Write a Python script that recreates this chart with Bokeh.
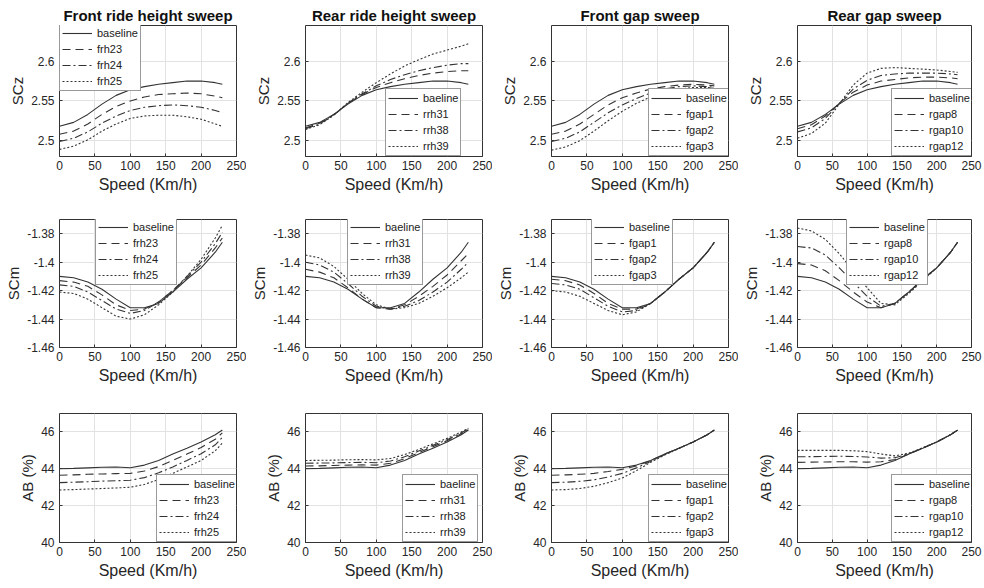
from bokeh.plotting import figure
from bokeh.layouts import column, row
from bokeh.models import Range1d, FixedTicker, Legend, LegendItem
from bokeh.embed import file_html
from bokeh.resources import INLINE

# ---------------- data ----------------
SPEED = [0, 20, 40, 60, 80, 100, 120, 140, 160, 180, 200, 220, 230]

X_TICKS = [0, 50, 100, 150, 200, 250]
X_TICK_LABELS = ["0", "50", "100", "150", "200", "250"]

COL_TITLES = ["Front ride height sweep", "Rear ride height sweep",
              "Front gap sweep", "Rear gap sweep"]
ROW_YLABELS = ["SCz", "SCm", "AB (%)"]
X_LABEL = "Speed (Km/h)"

SCZ_TICKS = [2.5, 2.55, 2.6]
SCZ_TICK_LABELS = ["2.5", "2.55", "2.6"]
SCM_TICKS = [-1.46, -1.44, -1.42, -1.4, -1.38]
SCM_TICK_LABELS = ["-1.46", "-1.44", "-1.42", "-1.4", "-1.38"]
AB_TICKS = [40, 42, 44, 46]
AB_TICK_LABELS = ["40", "42", "44", "46"]

FRH_LABELS = ["baseline", "frh23", "frh24", "frh25"]
RRH_LABELS = ["baeline", "rrh31", "rrh38", "rrh39"]
FGAP_LABELS = ["baseline", "fgap1", "fgap2", "fgap3"]
RGAP_LABELS = ["baseline", "rgap8", "rgap10", "rgap12"]

# SCz
SCZ_BASE = [2.518, 2.523, 2.533, 2.546, 2.557, 2.564, 2.568, 2.571, 2.573, 2.575, 2.575, 2.573, 2.571]
SCZ_FRH23 = [2.508, 2.512, 2.521, 2.533, 2.543, 2.550, 2.555, 2.558, 2.559, 2.560, 2.559, 2.556, 2.554]
SCZ_FRH24 = [2.499, 2.503, 2.511, 2.522, 2.531, 2.538, 2.542, 2.544, 2.545, 2.544, 2.542, 2.538, 2.535]
SCZ_FRH25 = [2.489, 2.493, 2.501, 2.512, 2.521, 2.528, 2.531, 2.532, 2.532, 2.530, 2.527, 2.521, 2.518]
SCZ_RRH31 = [2.516, 2.522, 2.533, 2.547, 2.558, 2.567, 2.573, 2.578, 2.582, 2.585, 2.587, 2.588, 2.588]
SCZ_RRH38 = [2.515, 2.521, 2.532, 2.547, 2.559, 2.569, 2.577, 2.583, 2.588, 2.592, 2.595, 2.597, 2.597]
SCZ_RRH39 = [2.514, 2.520, 2.532, 2.548, 2.561, 2.573, 2.584, 2.594, 2.602, 2.609, 2.614, 2.619, 2.622]
SCZ_FGAP1 = [2.508, 2.512, 2.521, 2.533, 2.545, 2.554, 2.560, 2.565, 2.568, 2.570, 2.571, 2.570, 2.569]
SCZ_FGAP2 = [2.499, 2.503, 2.511, 2.523, 2.535, 2.545, 2.553, 2.560, 2.565, 2.568, 2.569, 2.568, 2.567]
SCZ_FGAP3 = [2.488, 2.492, 2.500, 2.512, 2.525, 2.537, 2.547, 2.555, 2.561, 2.565, 2.567, 2.567, 2.566]
SCZ_RGAP8 = [2.515, 2.520, 2.531, 2.547, 2.561, 2.570, 2.575, 2.577, 2.579, 2.580, 2.580, 2.579, 2.578]
SCZ_RGAP10 = [2.511, 2.516, 2.528, 2.547, 2.565, 2.576, 2.582, 2.584, 2.585, 2.585, 2.585, 2.584, 2.583]
SCZ_RGAP12 = [2.503, 2.509, 2.522, 2.546, 2.570, 2.585, 2.591, 2.592, 2.591, 2.590, 2.589, 2.587, 2.586]

# SCm
SCM_BASE = [-1.410, -1.411, -1.414, -1.419, -1.426, -1.432, -1.432, -1.429, -1.421, -1.412, -1.404, -1.393, -1.386]
SCM_FRH23 = [-1.413, -1.414, -1.417, -1.423, -1.430, -1.434, -1.433, -1.428, -1.420, -1.411, -1.402, -1.390, -1.383]
SCM_FRH24 = [-1.416, -1.417, -1.421, -1.427, -1.433, -1.436, -1.434, -1.428, -1.420, -1.410, -1.400, -1.387, -1.379]
SCM_FRH25 = [-1.421, -1.422, -1.426, -1.432, -1.438, -1.440, -1.437, -1.430, -1.421, -1.410, -1.398, -1.383, -1.374]
SCM_RRH31 = [-1.405, -1.407, -1.411, -1.418, -1.426, -1.432, -1.433, -1.430, -1.424, -1.417, -1.409, -1.399, -1.394]
SCM_RRH38 = [-1.400, -1.402, -1.407, -1.415, -1.424, -1.431, -1.433, -1.431, -1.427, -1.421, -1.414, -1.405, -1.400]
SCM_RRH39 = [-1.395, -1.397, -1.403, -1.412, -1.422, -1.430, -1.433, -1.432, -1.429, -1.424, -1.418, -1.411, -1.407]
SCM_FGAP1 = [-1.412, -1.413, -1.416, -1.422, -1.429, -1.433, -1.433, -1.429, -1.421, -1.412, -1.404, -1.393, -1.386]
SCM_FGAP2 = [-1.415, -1.416, -1.419, -1.425, -1.431, -1.435, -1.434, -1.429, -1.421, -1.412, -1.404, -1.393, -1.386]
SCM_FGAP3 = [-1.420, -1.421, -1.424, -1.429, -1.434, -1.437, -1.435, -1.429, -1.421, -1.412, -1.404, -1.393, -1.386]
SCM_RGAP8 = [-1.401, -1.402, -1.406, -1.413, -1.421, -1.428, -1.432, -1.429, -1.421, -1.412, -1.404, -1.393, -1.386]
SCM_RGAP10 = [-1.389, -1.390, -1.395, -1.404, -1.414, -1.424, -1.431, -1.429, -1.421, -1.412, -1.404, -1.393, -1.386]
SCM_RGAP12 = [-1.376, -1.378, -1.384, -1.394, -1.406, -1.418, -1.429, -1.430, -1.422, -1.413, -1.404, -1.393, -1.386]

# AB (%)
AB_BASE = [44.00, 44.02, 44.05, 44.08, 44.10, 44.06, 44.20, 44.45, 44.80, 45.12, 45.45, 45.85, 46.10]
AB_FRH23 = [43.65, 43.67, 43.70, 43.72, 43.74, 43.75, 43.88, 44.12, 44.45, 44.80, 45.15, 45.60, 45.95]
AB_FRH24 = [43.25, 43.27, 43.30, 43.33, 43.35, 43.38, 43.52, 43.78, 44.10, 44.45, 44.82, 45.30, 45.70]
AB_FRH25 = [42.85, 42.87, 42.90, 42.93, 42.96, 43.00, 43.15, 43.42, 43.75, 44.10, 44.45, 44.98, 45.40]
AB_RRH31 = [44.15, 44.16, 44.18, 44.20, 44.21, 44.20, 44.30, 44.55, 44.88, 45.20, 45.52, 45.90, 46.12]
AB_RRH38 = [44.30, 44.31, 44.32, 44.34, 44.35, 44.33, 44.42, 44.65, 44.96, 45.27, 45.58, 45.95, 46.15]
AB_RRH39 = [44.45, 44.46, 44.47, 44.49, 44.50, 44.48, 44.56, 44.77, 45.05, 45.35, 45.65, 46.00, 46.20]
AB_FGAP1 = [43.65, 43.67, 43.70, 43.75, 43.85, 43.97, 44.15, 44.45, 44.80, 45.12, 45.45, 45.85, 46.10]
AB_FGAP2 = [43.25, 43.27, 43.32, 43.40, 43.55, 43.75, 44.05, 44.40, 44.78, 45.12, 45.45, 45.85, 46.10]
AB_FGAP3 = [42.85, 42.87, 42.93, 43.05, 43.25, 43.50, 43.90, 44.35, 44.75, 45.10, 45.45, 45.85, 46.10]
AB_RGAP8 = [44.35, 44.36, 44.37, 44.38, 44.38, 44.36, 44.38, 44.50, 44.80, 45.12, 45.45, 45.85, 46.10]
AB_RGAP10 = [44.65, 44.66, 44.67, 44.68, 44.67, 44.64, 44.58, 44.60, 44.82, 45.13, 45.45, 45.85, 46.10]
AB_RGAP12 = [45.00, 45.00, 45.00, 45.00, 44.98, 44.93, 44.80, 44.70, 44.85, 45.14, 45.46, 45.86, 46.10]

ROW_DATA = [
    (SCZ_BASE, [SCZ_FRH23, SCZ_FRH24, SCZ_FRH25], [SCZ_RRH31, SCZ_RRH38, SCZ_RRH39],
     [SCZ_FGAP1, SCZ_FGAP2, SCZ_FGAP3], [SCZ_RGAP8, SCZ_RGAP10, SCZ_RGAP12]),
    (SCM_BASE, [SCM_FRH23, SCM_FRH24, SCM_FRH25], [SCM_RRH31, SCM_RRH38, SCM_RRH39],
     [SCM_FGAP1, SCM_FGAP2, SCM_FGAP3], [SCM_RGAP8, SCM_RGAP10, SCM_RGAP12]),
    (AB_BASE, [AB_FRH23, AB_FRH24, AB_FRH25], [AB_RRH31, AB_RRH38, AB_RRH39],
     [AB_FGAP1, AB_FGAP2, AB_FGAP3], [AB_RGAP8, AB_RGAP10, AB_RGAP12]),
]
COL_LABELS = [FRH_LABELS, RRH_LABELS, FGAP_LABELS, RGAP_LABELS]
ROW_TICKS = [(SCZ_TICKS, SCZ_TICK_LABELS), (SCM_TICKS, SCM_TICK_LABELS), (AB_TICKS, AB_TICK_LABELS)]

# ---------------- layout / style ----------------
Y_RANGES = [(2.48, 2.645), (-1.46, -1.37), (40, 47)]
FRAME_W = [177, 177, 177, 174]
FRAME_H = [131, 128, 129]
MB_TOP = [25, 21, 24]
MB_BOTTOM = [42, 42, 44]
MB_LEFT = 59
MB_RIGHT = [10, 10, 10, 13]
LEGEND_W = 80
LEGEND_H = 66


def legend_pos(r, c):
    fw, fh = FRAME_W[c], FRAME_H[r]
    if r == 0:
        return [(0, fh - LEGEND_H), (80, 0), (fw - LEGEND_W, 0), (fw - LEGEND_W, 0)][c]
    if r == 1:
        return [(36, fh - LEGEND_H), (42, fh - LEGEND_H), (40, fh - LEGEND_H), (49, fh - LEGEND_H)][c]
    return (fw - LEGEND_W, 0)


DASHES = ["solid", "8 5", "8 3 2 3", "2 2"]
LINE_COLOR = "#333333"
FONT = "Liberation Sans"
TEXT_COLOR = "#262626"


def make_panel(r, c):
    kw = {}
    if r == 0:
        kw["title"] = COL_TITLES[c]
    p = figure(frame_width=FRAME_W[c], frame_height=FRAME_H[r],
               x_range=Range1d(0, 250), y_range=Range1d(*Y_RANGES[r]),
               min_border_left=MB_LEFT, min_border_right=MB_RIGHT[c],
               min_border_top=MB_TOP[r], min_border_bottom=MB_BOTTOM[r],
               output_backend="svg", toolbar_location=None, **kw)
    p.background_fill_color = "white"
    p.border_fill_color = "white"
    p.outline_line_color = "#333333"
    p.outline_line_width = 1
    if r == 0:
        p.title.text_font = FONT
        p.title.text_font_size = "15px"
        p.title.text_font_style = "bold"
        p.title.text_color = "#111111"
        p.title.align = "center"
        p.title.standoff = 4
        p.title.offset = 0

    yt, ytl = ROW_TICKS[r]
    p.xaxis.ticker = FixedTicker(ticks=X_TICKS)
    p.xaxis.major_label_overrides = dict(zip(X_TICKS, X_TICK_LABELS))
    p.yaxis.ticker = FixedTicker(ticks=yt)
    p.yaxis.major_label_overrides = dict(zip(yt, ytl))
    p.xaxis.axis_label = X_LABEL
    p.yaxis.axis_label = ROW_YLABELS[r]
    for ax in (p.xaxis, p.yaxis):
        ax.axis_label_text_font = FONT
        ax.axis_label_text_font_style = "normal"
        ax.axis_label_text_color = TEXT_COLOR
        ax.major_label_text_font = FONT
        ax.major_label_text_font_size = "12px"
        ax.major_label_text_color = TEXT_COLOR
        ax.axis_line_color = None
        ax.major_tick_in = 3
        ax.major_tick_out = 0
        ax.major_tick_line_color = "#333333"
        ax.minor_tick_line_color = None
    p.xaxis.axis_label_text_font_size = "16px"
    p.yaxis.axis_label_text_font_size = "15px"
    p.xaxis.major_label_standoff = 4
    p.xaxis.axis_label_standoff = 3
    p.yaxis.major_label_standoff = 5
    p.yaxis.axis_label_standoff = 2
    p.grid.grid_line_color = "#e2e2e2"
    p.grid.grid_line_width = 1

    base = ROW_DATA[r][0]
    others = ROW_DATA[r][c + 1]
    series = [base] + others
    labels = COL_LABELS[c]
    items = []
    for s, lab, dash in zip(series, labels, DASHES):
        rr = p.line(SPEED, s, line_color=LINE_COLOR, line_width=1.1, line_dash=dash)
        items.append(LegendItem(label=lab, renderers=[rr]))
    leg = Legend(items=items, location=legend_pos(r, c))
    leg.label_text_font = FONT
    leg.label_text_font_size = "11px"
    leg.label_text_color = "#222222"
    leg.label_height = 14
    leg.glyph_height = 14
    leg.glyph_width = 30
    leg.label_standoff = 5
    leg.spacing = 2
    leg.padding = 2
    leg.margin = 0
    leg.border_line_color = "#333333"
    leg.border_line_width = 1
    leg.background_fill_color = "white"
    leg.background_fill_alpha = 1.0
    p.add_layout(leg)
    return p


rows = []
for r in range(3):
    rows.append(row(*[make_panel(r, c) for c in range(4)], spacing=0))
layout = column(*rows, spacing=0)

open("out.html", "w").write(file_html(layout, INLINE))
